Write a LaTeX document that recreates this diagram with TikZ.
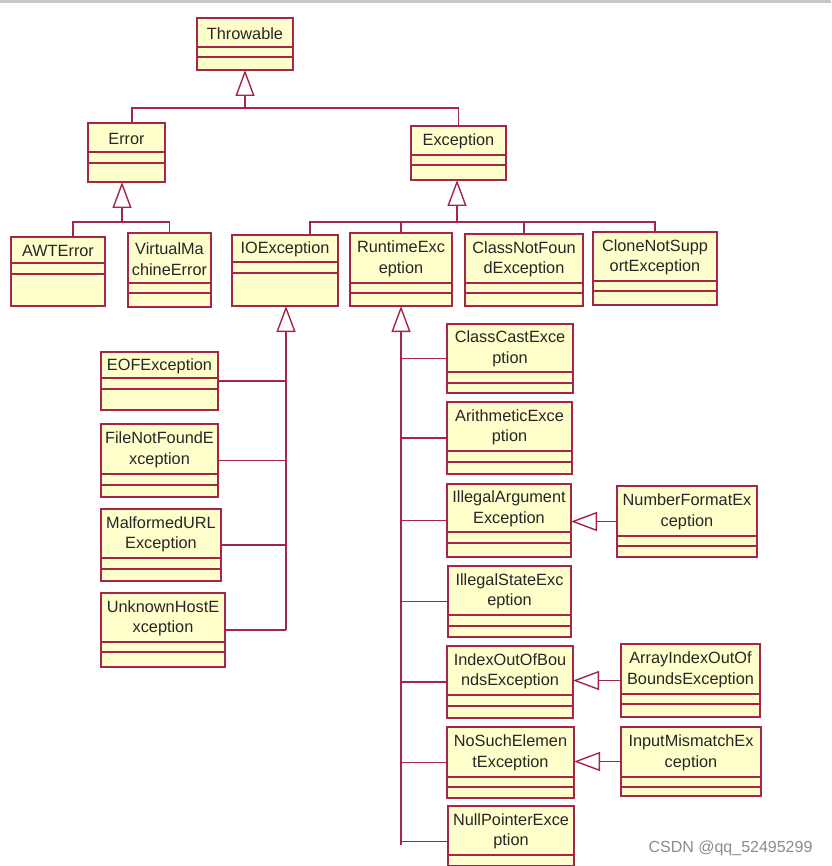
\documentclass[tikz,border=0pt]{standalone}
\usepackage{fontspec}
\setmainfont{Liberation Sans}
\usepackage{tikz}
\usetikzlibrary{arrows.meta,calc}
\definecolor{umlred}{RGB}{165,38,72}
\definecolor{umlfill}{RGB}{255,255,204}
\newcommand{\umlclass}[8]{%
  \node[cls,minimum width=#4pt,minimum height=#5pt] (#1) at (#2,#3) {};
  \draw[clsline] ([yshift=-#6pt]#1.north west) -- ([yshift=-#6pt]#1.north east);
  \draw[clsline] ([yshift=-#7pt]#1.north west) -- ([yshift=-#7pt]#1.north east);
  \node[clsname] (#1name) at ([yshift=-#6pt/2-1pt]#1.north) {#8};
}

\begin{document}
\begin{tikzpicture}[x=1pt,y=-1pt,
  cls/.style={draw=umlred,fill=umlfill,line width=1.4pt,anchor=north west,inner sep=0pt,outer sep=0pt},
  clsline/.style={draw=umlred,line width=1.4pt},
  clsname/.style={font=\fontsize{16.3}{20.5}\selectfont,text=black!85,align=center,inner sep=0pt},
  link/.style={draw=umlred,line width=1.4pt},
  inh/.style={link,-{Triangle[open,length=26pt,width=19pt]}}]
\useasboundingbox (0,0) rectangle (831,866);
\clip (0,0) rectangle (831,866);
\fill[white] (0,0) rectangle (831,866);
\fill[black!22] (0,0) rectangle (831,3);
% --- top of the tree ---
\umlclass{thr}{197}{18}{96}{52}{29}{39}{Throwable}
\umlclass{err}{88}{123}{77}{59}{29}{40}{Error}
\umlclass{exc}{411}{126}{95}{54}{29}{39}{Exception}
% --- errors ---
\umlclass{awt}{11}{237}{94}{69}{26}{37}{AWTError}
\umlclass{vme}{128}{233}{83}{74}{50}{60}{VirtualMa\\chineError}
% --- exceptions ---
\umlclass{ioe}{232}{235}{106}{71}{27}{38}{IOException}
\umlclass{rte}{350}{233}{102}{73}{50}{60}{RuntimeExc\\eption}
\umlclass{cnf}{465}{234}{118}{72}{49}{59}{ClassNotFoun\\dException}
\umlclass{cns}{593}{232}{124}{73}{49}{59}{CloneNotSupp\\ortException}
% --- IO branch ---
\umlclass{eof}{101}{352}{117}{58}{26}{37}{EOFException}
\umlclass{fnf}{101}{424}{117}{73}{50}{61}{FileNotFoundE\\xception}
\umlclass{mfu}{101}{509}{120}{72}{49}{60}{MalformedURL\\Exception}
\umlclass{uhe}{101}{593}{124}{74}{49}{59}{UnknownHostE\\xception}
% --- runtime branch ---
\umlclass{cce}{447}{324}{126}{69}{48}{59}{ClassCastExce\\ption}
\umlclass{ari}{447}{402}{125}{72}{49}{60}{ArithmeticExce\\ption}
\umlclass{iae}{447}{484}{124}{73}{48}{59}{IllegalArgument\\Exception}
\umlclass{ise}{448}{566}{123}{71}{49}{60}{IllegalStateExc\\eption}
\umlclass{iob}{447}{646}{126}{72}{49}{60}{IndexOutOfBou\\ndsException}
\umlclass{nse}{447}{727}{127}{71}{50}{60}{NoSuchElemen\\tException}
\umlclass{npe}{448}{806}{126}{71}{49}{60}{NullPointerExce\\ption}
% --- subclasses on the right ---
\umlclass{nfe}{617}{486}{140}{71}{50}{60}{NumberFormatEx\\ception}
\umlclass{aio}{621}{644}{139}{73}{50}{60}{ArrayIndexOutOf\\BoundsException}
\umlclass{ime}{621}{727}{140}{69}{50}{60}{InputMismatchEx\\ception}
% --- generalisation links ---
\coordinate (thrbus) at (245,108);
\coordinate (errbus) at (122,222);
\coordinate (excbus) at (457,222);
\coordinate (iobus) at (286,630);
\coordinate (rtbus) at (401,845);
\draw[link] ([xshift=5.5pt]err.north) |- (thrbus) -| (exc.north);
\draw[inh] (thrbus) -- (thrbus |- thr.south);
\draw[link] ([xshift=15pt]awt.north) |- (errbus) -| (vme.north);
\draw[inh] (errbus) -- (errbus |- err.south);
\draw[link] ([xshift=25pt]ioe.north) |- (excbus) -| (cns.north);
\draw[link] (rte.north) -- (rte.north |- excbus);
\draw[link] (cnf.north) -- (cnf.north |- excbus);
\draw[inh] (excbus) -- (excbus |- exc.south);
\draw[inh] (iobus) -- (iobus |- ioe.south);
\foreach \c in {eof,fnf,mfu,uhe}
  \draw[link] (\c.east) -- (\c.east -| iobus);
\draw[inh] (rtbus) -- (rtbus |- rte.south);
\foreach \c in {cce,ari,iae,ise,iob,nse,npe}
  \draw[link] (\c.west) -- (\c.west -| rtbus);
\draw[inh] (nfe.west) -- (nfe.west -| iae.east);
\draw[inh] (aio.west) -- (aio.west -| iob.east);
\draw[inh] (ime.west) -- (ime.west -| nse.east);
% watermark
\node[text=black!45,font=\fontsize{16}{18}\selectfont,anchor=east] (mark) at (816,848) {CSDN @qq\_52495299};
\end{tikzpicture}
\end{document}
